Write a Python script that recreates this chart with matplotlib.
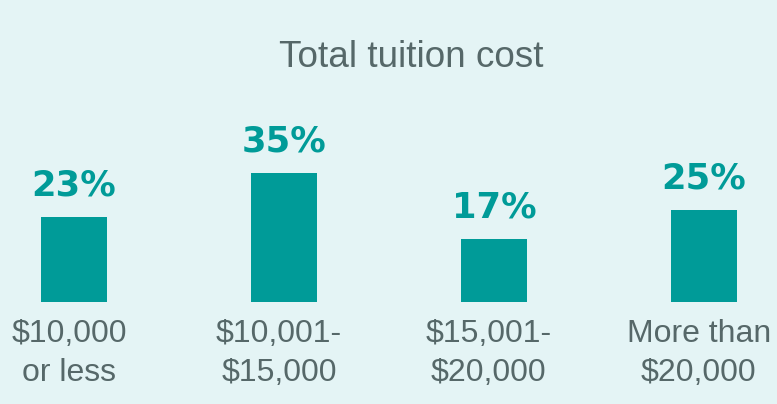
import numpy as np
import matplotlib
matplotlib.use("Agg")
import matplotlib.pyplot as plt
import matplotlib.transforms as mtransforms

# data -----------------------------------------------------------
categories = ["$10,000\nor less", "$10,001-\n$15,000", "$15,001-\n$20,000", "More than\n$20,000"]
shares = [23, 35, 17, 25]
title = "Total tuition cost"

# style ----------------------------------------------------------
bg = "#E4F4F5"
teal = "#009B98"
grey = "#566869"

plt.rcParams['font.family'] = ['Liberation Sans', 'DejaVu Sans']

fig = plt.figure(figsize=(7.77, 4.04), dpi=100, facecolor=bg)
ax = fig.add_axes([0, 0.2525, 1, 0.7475])
ax.set_facecolor(bg)

x = np.arange(len(shares))
bars = ax.bar(x, shares, width=0.314, color=teal)

ax.set_xlim(-0.352, 3.348)
ax.set_ylim(0, 82.1)

for b, v in zip(bars, shares):
    ax.annotate(f"{v}%", (b.get_x() + b.get_width() / 2, v),
                xytext=(0, 15.8), textcoords="offset points",
                ha="center", va="baseline", color=teal,
                fontsize=25.5, fontweight="bold", family="DejaVu Sans")

ax.set_xticks(x, categories)
ax.tick_params(axis="x", length=0, pad=12.5, labelsize=23, labelcolor=grey)
shift = mtransforms.ScaledTranslation(-5 / 100, 0, fig.dpi_scale_trans)
for lab in ax.get_xticklabels():
    lab.set_linespacing(1.37)
    lab.set_transform(lab.get_transform() + shift)
ax.set_yticks([])
for s in ax.spines.values():
    s.set_visible(False)

fig.text(411 / 777, 1 - 67 / 404, title, ha="center", va="baseline",
         fontsize=26.6, color=grey)

fig.savefig("out.png", dpi=100, facecolor=bg)
